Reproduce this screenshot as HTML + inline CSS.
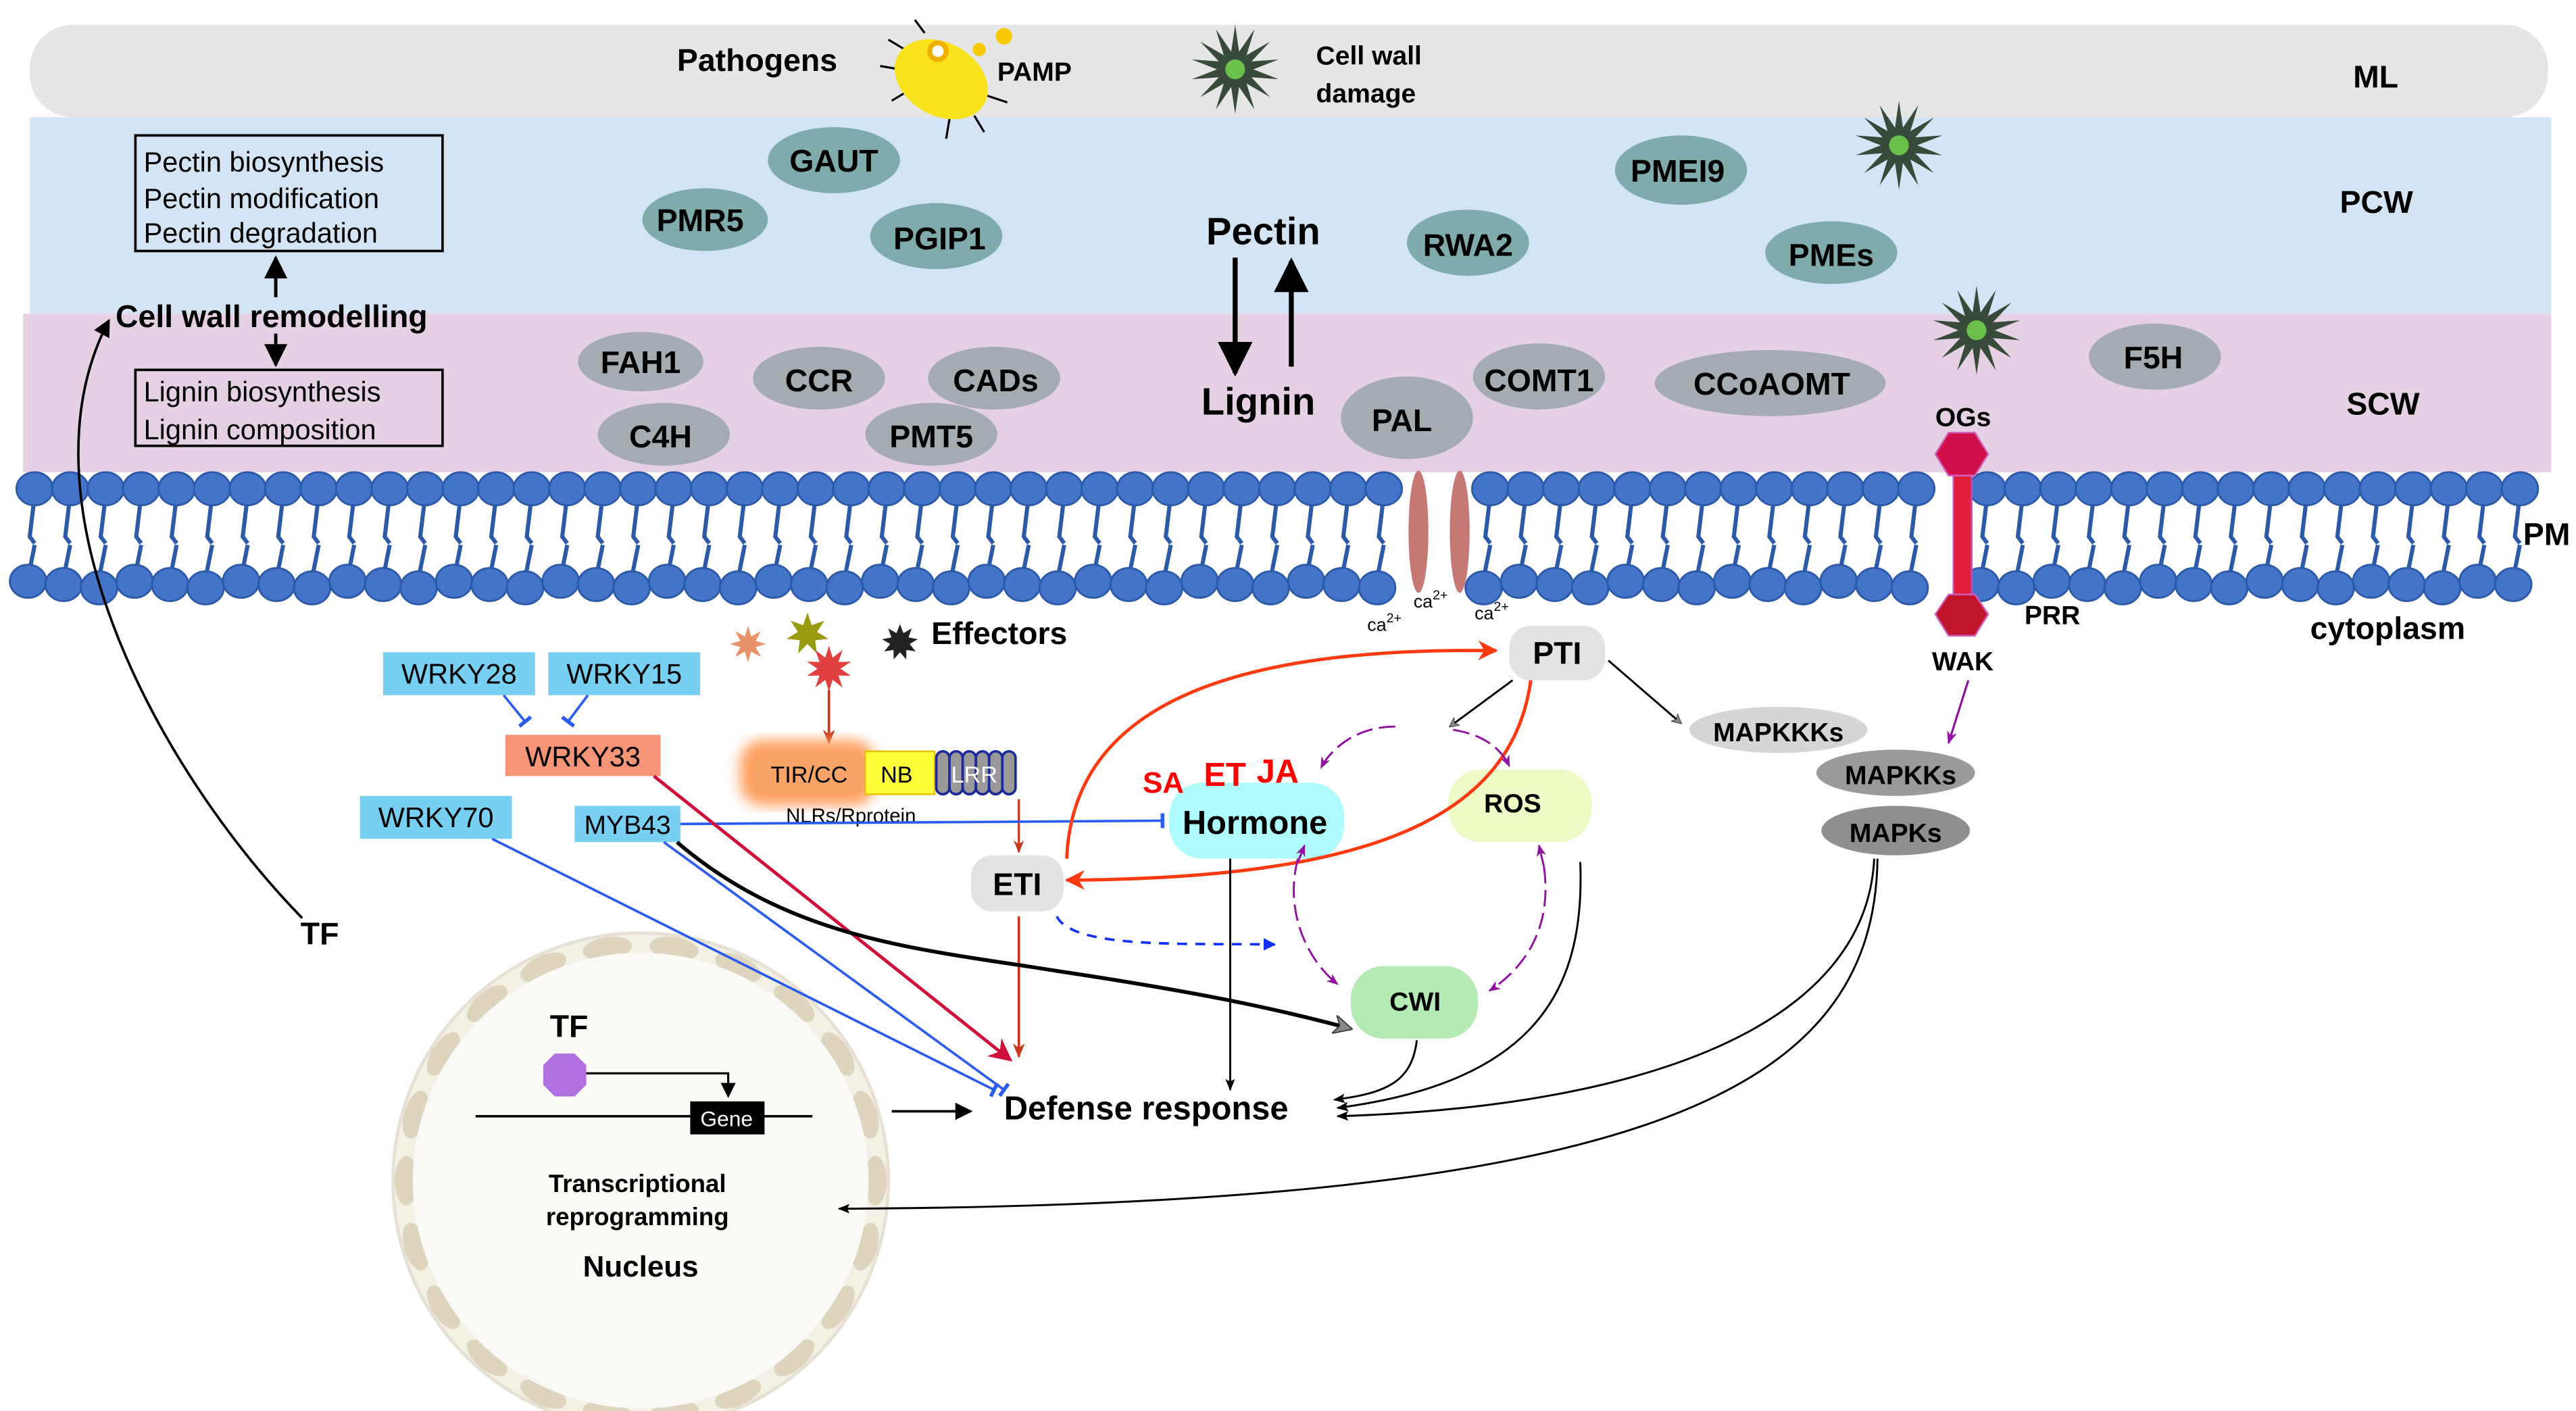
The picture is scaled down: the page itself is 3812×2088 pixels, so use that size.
<!DOCTYPE html>
<html><head><meta charset="utf-8">
<style>
html,body{margin:0;padding:0;background:#fff;}
svg{display:block;}
text{font-family:"Liberation Sans Narrow","Liberation Sans",sans-serif;}
.b{font-weight:bold;}
</style></head>
<body>
<svg id="s" xmlns="http://www.w3.org/2000/svg" width="3812" height="2088" viewBox="0 0 1560 854.5" preserveAspectRatio="none">
<defs>
<marker id="ak" viewBox="0 0 10 10" refX="9" refY="5" markerWidth="7" markerHeight="7" orient="auto-start-reverse"><path d="M0,0 L10,5 L0,10 z" fill="#000"/></marker>
<marker id="ao" viewBox="0 0 10 10" refX="9" refY="5" markerWidth="6" markerHeight="6" orient="auto"><path d="M0,1 L10,5 L0,9 L2,5 z" fill="#000"/></marker>
<marker id="ar" viewBox="0 0 10 10" refX="9" refY="5" markerWidth="6" markerHeight="6" orient="auto"><path d="M0,0 L10,5 L0,10 L3,5 z" fill="#ff3a10"/></marker>
<marker id="abr" viewBox="0 0 10 10" refX="9" refY="5" markerWidth="6" markerHeight="6" orient="auto"><path d="M0,1 L10,5 L0,9 L3,5 z" fill="#c8361a"/></marker>
<marker id="acr" viewBox="0 0 10 10" refX="9" refY="5" markerWidth="7" markerHeight="7" orient="auto"><path d="M0,0 L10,5 L0,10 L3,5 z" fill="#d0103a"/></marker>
<marker id="ap" viewBox="0 0 10 10" refX="9" refY="5" markerWidth="6" markerHeight="6" orient="auto"><path d="M0,1 L10,5 L0,9 L3,5 z" fill="#9010a0"/></marker>
<marker id="ab" viewBox="0 0 10 10" refX="9" refY="5" markerWidth="5" markerHeight="5" orient="auto"><path d="M0,0 L10,5 L0,10 z" fill="#1030ff"/></marker>
<marker id="ag" viewBox="0 0 10 10" refX="9" refY="5" markerWidth="5" markerHeight="5" orient="auto"><path d="M0,0 L10,5 L0,10 L3,5 z" fill="#888" stroke="#333" stroke-width="0.6"/></marker>
<marker id="tb" viewBox="0 0 4 10" refX="2" refY="5" markerWidth="3" markerHeight="6" orient="auto"><path d="M2,0 L2,10" stroke="#2a5cf0" stroke-width="2.5"/></marker>
<filter id="glow"><feGaussianBlur stdDeviation="4"/></filter>
</defs>

<rect x="18" y="15" width="1525" height="56" rx="26" fill="#e6e6e6"/>
<rect x="18" y="71" width="1527" height="119" fill="#d3e4f5"/>
<rect x="14" y="190" width="1531" height="96" fill="#e5d0e4"/>

<g id="mem"></g>

<ellipse cx="859" cy="322" rx="6" ry="37" fill="#c57874"/>
<ellipse cx="884" cy="322" rx="6" ry="37" fill="#c57874"/>
<text x="828" y="382" font-size="11">ca<tspan dy="-5" font-size="8">2+</tspan></text>
<text x="856" y="368" font-size="11">ca<tspan dy="-5" font-size="8">2+</tspan></text>
<text x="893" y="375" font-size="11">ca<tspan dy="-5" font-size="8">2+</tspan></text>

<rect x="1183" y="282" width="11" height="82" fill="#e0203a" stroke="#c050c0" stroke-width="1"/>
<polygon points="1180,262 1196,262 1204,275 1196,288 1180,288 1172,275" fill="#d0104a" stroke="#d060c0"/>
<polygon points="1180,360 1196,360 1204,372 1196,385 1180,385 1172,372" fill="#c0152a" stroke="#d060c0"/>
<text x="1172" y="258" font-size="16" class="b">OGs</text>
<text x="1226" y="378" font-size="16" class="b">PRR</text>
<text x="1170" y="406" font-size="16" class="b">WAK</text>

<g class="b" font-size="19">
<text x="1425" y="53">ML</text>
<text x="1417" y="129">PCW</text>
<text x="1421" y="251">SCW</text>
<text x="1528" y="330">PM</text>
<text x="1399" y="387">cytoplasm</text>
</g>

<text x="410" y="43" font-size="19" class="b">Pathogens</text>
<g stroke="#000" stroke-width="1.3" fill="none">
<path d="M548,30 l-10,-6 M545,42 l-12,-2 M550,55 l-10,6 M575,72 l-2,12 M590,70 l6,10 M598,58 l12,4 M560,20 l-6,-8"/>
</g>
<ellipse cx="570" cy="48" rx="30" ry="22" transform="rotate(30 570 48)" fill="#f7e21c"/>
<circle cx="568" cy="31" r="5" fill="#fff" stroke="#f0b000" stroke-width="3"/>
<circle cx="593" cy="30" r="4" fill="#f8c800"/>
<circle cx="608" cy="22" r="5" fill="#f8c800"/>
<text x="604" y="49" font-size="16" class="b">PAMP</text>
<g id="st1"></g>
<text x="797" y="39" font-size="16" class="b">Cell wall</text>
<text x="797" y="62" font-size="16" class="b">damage</text>

<rect x="82" y="82" width="186" height="70" fill="none" stroke="#000" stroke-width="1.5"/>
<text x="87" y="104" font-size="17">Pectin biosynthesis</text>
<text x="87" y="126" font-size="17">Pectin modification</text>
<text x="87" y="147" font-size="17">Pectin degradation</text>
<rect x="82" y="224" width="186" height="46" fill="none" stroke="#000" stroke-width="1.5"/>
<text x="87" y="243" font-size="17">Lignin biosynthesis</text>
<text x="87" y="266" font-size="17">Lignin composition</text>
<text x="70" y="198" font-size="19" class="b">Cell wall remodelling</text>
<line x1="167" y1="180" x2="167" y2="156" stroke="#000" stroke-width="2" marker-end="url(#ak)"/>
<line x1="167" y1="202" x2="167" y2="221" stroke="#000" stroke-width="2" marker-end="url(#ak)"/>

<g fill="#7fabac">
<ellipse cx="505" cy="97" rx="40" ry="20"/>
<ellipse cx="427" cy="133" rx="38" ry="19"/>
<ellipse cx="567" cy="143" rx="40" ry="20"/>
<ellipse cx="889" cy="147" rx="37" ry="20"/>
<ellipse cx="1018" cy="103" rx="40" ry="21"/>
<ellipse cx="1109" cy="153" rx="40" ry="19"/>
</g>
<g class="b" font-size="19" text-anchor="middle">
<text x="505" y="104">GAUT</text>
<text x="424" y="140">PMR5</text>
<text x="569" y="151">PGIP1</text>
<text x="889" y="155">RWA2</text>
<text x="1016" y="110">PMEI9</text>
<text x="1109" y="161">PMEs</text>
</g>

<g fill="#a4abb1">
<ellipse cx="388" cy="219" rx="38" ry="18"/>
<ellipse cx="496" cy="229" rx="40" ry="19"/>
<ellipse cx="602" cy="229" rx="40" ry="19"/>
<ellipse cx="402" cy="263" rx="40" ry="19"/>
<ellipse cx="564" cy="263" rx="40" ry="19"/>
<ellipse cx="852" cy="253" rx="40" ry="25"/>
<ellipse cx="932" cy="228" rx="40" ry="20"/>
<ellipse cx="1072" cy="232" rx="70" ry="20"/>
<ellipse cx="1305" cy="216" rx="40" ry="20"/>
</g>
<g class="b" font-size="19" text-anchor="middle">
<text x="388" y="226">FAH1</text>
<text x="496" y="237">CCR</text>
<text x="603" y="237">CADs</text>
<text x="400" y="271">C4H</text>
<text x="564" y="271">PMT5</text>
<text x="849" y="261">PAL</text>
<text x="932" y="237">COMT1</text>
<text x="1073" y="239">CCoAOMT</text>
<text x="1304" y="223">F5H</text>
</g>
<text x="765" y="148" font-size="23" class="b" text-anchor="middle">Pectin</text>
<text x="762" y="251" font-size="23" class="b" text-anchor="middle">Lignin</text>
<line x1="748" y1="156" x2="748" y2="226" stroke="#000" stroke-width="3" marker-end="url(#ak)"/>
<line x1="782" y1="222" x2="782" y2="158" stroke="#000" stroke-width="3" marker-end="url(#ak)"/>

<path d="M183,556 C90,460 10,300 66,194" fill="none" stroke="#000" stroke-width="1.5" marker-end="url(#ak)"/>
<text x="182" y="572" font-size="19" class="b">TF</text>

<rect x="232" y="395" width="92" height="26" fill="#77d0f2"/>
<text x="278" y="414" font-size="17" text-anchor="middle">WRKY28</text>
<rect x="332" y="395" width="92" height="26" fill="#77d0f2"/>
<text x="378" y="414" font-size="17" text-anchor="middle">WRKY15</text>
<rect x="306" y="445" width="94" height="25" fill="#f69478"/>
<text x="353" y="464" font-size="17" text-anchor="middle">WRKY33</text>
<rect x="218" y="482" width="92" height="26" fill="#77d0f2"/>
<text x="264" y="501" font-size="17" text-anchor="middle">WRKY70</text>
<rect x="348" y="488" width="64" height="22" fill="#77d0f2"/>
<text x="380" y="505" font-size="16" text-anchor="middle">MYB43</text>
<line x1="305" y1="421" x2="318" y2="437" stroke="#2a5cf0" stroke-width="1.5" marker-end="url(#tb)"/>
<line x1="356" y1="421" x2="344" y2="437" stroke="#2a5cf0" stroke-width="1.5" marker-end="url(#tb)"/>

<g id="st2"></g>
<text x="564" y="390" font-size="19" class="b">Effectors</text>
<line x1="502" y1="418" x2="502" y2="450" stroke="#c8361a" stroke-width="1.5" marker-end="url(#abr)"/>

<rect x="448" y="448" width="82" height="40" rx="14" fill="#ffa060" filter="url(#glow)"/>
<rect x="456" y="455" width="68" height="27" rx="10" fill="#f8a468"/>
<text x="490" y="474" font-size="14" text-anchor="middle">TIR/CC</text>
<rect x="524" y="455" width="42" height="26" fill="#ffff3a" stroke="#e8c000"/>
<text x="543" y="474" font-size="14" text-anchor="middle">NB</text>
<g fill="#999" stroke="#1a2a9a" stroke-width="1.5">
<rect x="567" y="455" width="8" height="26" rx="4"/><rect x="575" y="455" width="8" height="26" rx="4"/><rect x="583" y="455" width="8" height="26" rx="4"/><rect x="591" y="455" width="8" height="26" rx="4"/><rect x="599" y="455" width="8" height="26" rx="4"/><rect x="607" y="455" width="8" height="26" rx="4"/>
</g>
<text x="590" y="474" font-size="14" fill="#fff" text-anchor="middle">LRR</text>
<text x="476" y="498" font-size="12">NLRs/Rprotein</text>
<line x1="617" y1="484" x2="617" y2="516" stroke="#c8361a" stroke-width="1.3" marker-end="url(#abr)"/>

<rect x="588" y="518" width="56" height="34" rx="13" fill="#e3e3e3"/>
<text x="616" y="542" font-size="19" class="b" text-anchor="middle">ETI</text>
<rect x="914" y="379" width="58" height="33" rx="13" fill="#e3e3e3"/>
<text x="943" y="402" font-size="19" class="b" text-anchor="middle">PTI</text>
<rect x="708" y="474" width="106" height="46" rx="20" fill="#aefcfc"/>
<text x="760" y="505" font-size="20" class="b" text-anchor="middle">Hormone</text>
<rect x="877" y="466" width="87" height="44" rx="20" fill="#eefbc6"/>
<text x="916" y="492" font-size="16" class="b" text-anchor="middle">ROS</text>
<rect x="818" y="585" width="77" height="44" rx="20" fill="#b5ebb4"/>
<text x="857" y="612" font-size="16" class="b" text-anchor="middle">CWI</text>
<g fill="#f00" class="b">
<text x="692" y="480" font-size="18">SA</text>
<text x="729" y="476" font-size="20">ET</text>
<text x="761" y="474" font-size="20">JA</text>
</g>

<ellipse cx="1077" cy="442" rx="54" ry="14" fill="#d6d6d6"/>
<text x="1077" y="449" font-size="16" class="b" text-anchor="middle">MAPKKKs</text>
<ellipse cx="1148" cy="468" rx="48" ry="14" fill="#9a9a9a"/>
<text x="1151" y="475" font-size="16" class="b" text-anchor="middle">MAPKKs</text>
<ellipse cx="1148" cy="503" rx="45" ry="15" fill="#8f8f8f"/>
<text x="1148" y="510" font-size="16" class="b" text-anchor="middle">MAPKs</text>
<line x1="1192" y1="412" x2="1180" y2="450" stroke="#9010a0" stroke-width="1.3" marker-end="url(#ap)"/>

<circle cx="388" cy="715" r="150" fill="#f3f0e6" stroke="#e6e1d2" stroke-width="2"/>
<g id="nb"></g>
<circle cx="388" cy="715" r="138" fill="#faf9f5"/>
<text x="333" y="628" font-size="19" class="b">TF</text>
<polygon points="336,638 348,638 355,645 355,657 348,664 336,664 329,657 329,645" fill="#b070e0"/>
<line x1="288" y1="676" x2="492" y2="676" stroke="#000" stroke-width="1.5"/>
<rect x="418" y="667" width="45" height="20" fill="#000"/>
<text x="440" y="682" font-size="13" fill="#fff" text-anchor="middle">Gene</text>
<path d="M355,650 L441,650 L441,664" fill="none" stroke="#000" stroke-width="1.3" marker-end="url(#ak)"/>
<text x="386" y="722" font-size="15" class="b" text-anchor="middle">Transcriptional</text>
<text x="386" y="742" font-size="15" class="b" text-anchor="middle">reprogramming</text>
<text x="388" y="773" font-size="18" class="b" text-anchor="middle">Nucleus</text>
<line x1="540" y1="673" x2="588" y2="673" stroke="#000" stroke-width="1.5" marker-end="url(#ak)"/>
<text x="608" y="678" font-size="20" class="b">Defense response</text>

<g fill="none">
<line x1="298" y1="508" x2="602" y2="660" stroke="#2a5cf0" stroke-width="1.5" marker-end="url(#tb)"/>
<line x1="402" y1="510" x2="608" y2="660" stroke="#2a5cf0" stroke-width="1.5" marker-end="url(#tb)"/>
<line x1="412" y1="499" x2="704" y2="497" stroke="#2a5cf0" stroke-width="1.5" marker-end="url(#tb)"/>
<line x1="396" y1="470" x2="612" y2="642" stroke="#d0103a" stroke-width="2" marker-end="url(#acr)"/>
<line x1="617" y1="555" x2="617" y2="640" stroke="#c8361a" stroke-width="1.5" marker-end="url(#abr)"/>
<path d="M410,510 C480,570 560,575 640,588 C720,600 770,610 818,623" stroke="#000" stroke-width="2.3" marker-end="url(#ag)"/>
<path d="M646,520 C650,420 760,392 906,394" stroke="#ff3a10" stroke-width="2" marker-end="url(#ar)"/>
<path d="M927,412 C915,500 820,532 646,533" stroke="#ff3a10" stroke-width="2" marker-end="url(#ar)"/>
<path d="M640,555 C650,575 720,571 772,572" stroke="#1030ff" stroke-width="1.5" stroke-dasharray="6,5" marker-end="url(#ab)"/>
<line x1="916" y1="412" x2="878" y2="440" stroke="#000" stroke-width="1.2" marker-end="url(#ag)"/>
<line x1="974" y1="400" x2="1018" y2="438" stroke="#000" stroke-width="1.2" marker-end="url(#ag)"/>
<path d="M845,440 C820,440 805,455 800,465" stroke="#9010a0" stroke-width="1.2" stroke-dasharray="10,4" marker-end="url(#ap)"/>
<path d="M880,442 C900,445 910,455 914,464" stroke="#9010a0" stroke-width="1.2" stroke-dasharray="10,4" marker-end="url(#ap)"/>
<path d="M786,520 C778,550 790,580 810,596" stroke="#9010a0" stroke-width="1.2" stroke-dasharray="10,4" marker-end="url(#ap)"/>
<path d="M786,522 L790,512" stroke="#9010a0" stroke-width="1.2" marker-end="url(#ap)"/>
<path d="M935,525 C940,560 925,585 902,600" stroke="#9010a0" stroke-width="1.2" stroke-dasharray="10,4" marker-end="url(#ap)"/>
<path d="M935,525 L932,512" stroke="#9010a0" stroke-width="1.2" marker-end="url(#ap)"/>
<line x1="745" y1="520" x2="745" y2="660" stroke="#000" stroke-width="1.2" marker-end="url(#ao)"/>
<path d="M858,630 C855,655 840,662 808,666" stroke="#000" stroke-width="1.2" marker-end="url(#ao)"/>
<path d="M957,522 C960,600 930,655 810,671" stroke="#000" stroke-width="1.2" marker-end="url(#ao)"/>
<path d="M1135,520 C1130,620 1000,670 810,676" stroke="#000" stroke-width="1.2" marker-end="url(#ao)"/>
<path d="M1137,520 C1135,660 1000,730 508,732" stroke="#000" stroke-width="1.2" marker-end="url(#ao)"/>
</g>
</svg>
<script>
(function(){
var NS="http://www.w3.org/2000/svg",m=document.getElementById("mem");
function el(t,a,p){var e=document.createElementNS(NS,t);for(var k in a)e.setAttribute(k,a[k]);(p||m).appendChild(e);return e;}
var x=20,i=0;
while(x<1530){
 var skip=(x>846&&x<897)||(x>1176&&x<1202);
 if(!skip){
  var dy=(i%3)*2;
  el("path",{d:"M"+(x+1)+",300 L"+(x-2)+",325 l3,4 M"+(x+1)+",330 L"+(x-3)+",350",stroke:"#2d5aa8","stroke-width":"2.5",fill:"none"});
  el("ellipse",{cx:x+1,cy:296,rx:11,ry:10,fill:"#4474c8",stroke:"#2d5aa8","stroke-width":"1.2"});
  el("ellipse",{cx:x-3,cy:352+dy,rx:11,ry:10,fill:"#4474c8",stroke:"#2d5aa8","stroke-width":"1.2"});
 }
 x+=21.5;i++;
}
function star(g,cx,cy,r1,r2,n,f){var p=[];for(var k=0;k<2*n;k++){var r=k%2?r2:r1,a=Math.PI*k/n-Math.PI/2;p.push((cx+r*Math.cos(a)).toFixed(1)+","+(cy+r*Math.sin(a)).toFixed(1));}el("polygon",{points:p.join(" "),fill:f},g);}
var s1=document.getElementById("st1"),s2=document.getElementById("st2");
[[748,42],[1150,88],[1197,200]].forEach(function(c){star(s1,c[0],c[1],27,11,14,"#384a3a");el("circle",{cx:c[0],cy:c[1],r:6,fill:"#6ac04a"},s1);});
star(s2,453,390,11,5,8,"#e8926a");star(s2,489,384,13,6,7,"#9a9a10");star(s2,545,389,11,6,9,"#222");star(s2,502,405,14,7,10,"#e04040");
var nb=document.getElementById("nb");
for(var k=0;k<22;k++){var a=2*Math.PI*k/22,cx=388+142*Math.cos(a),cy=715+142*Math.sin(a);el("ellipse",{cx:cx,cy:cy,rx:7,ry:15,fill:"#ddd5bd",transform:"rotate("+(a*180/Math.PI)+" "+cx+" "+cy+")"},nb);}
})();
</script>
</body></html>
